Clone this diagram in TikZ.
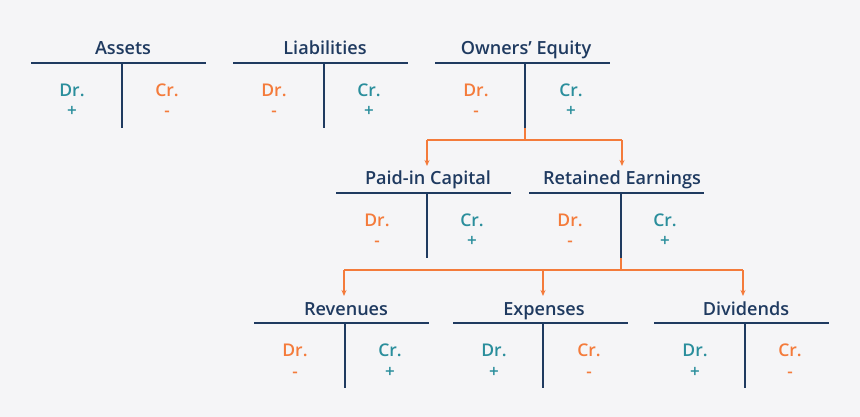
\documentclass[tikz,border=0pt]{standalone}
\usepackage{fontspec}
\setmainfont{Open Sans}
\IfFontExistsTF{Open Sans SemiBold}{\newfontfamily\semib{Open Sans SemiBold}}{%
 \IfFontExistsTF{Open Sans Semibold}{\newfontfamily\semib{Open Sans Semibold}}{%
  \newfontfamily\semib{Open Sans}[FakeBold=2]}}
\usetikzlibrary{arrows.meta}
\definecolor{navy}{HTML}{1F3A60}
\definecolor{teal}{HTML}{2A8E9C}
\definecolor{orng}{HTML}{F47B3B}
\definecolor{bg}{HTML}{F5F5F7}
\tikzset{
  tline/.style={draw=navy, line width=2.4pt},
  title/.style={text=navy, font=\semib\fontsize{18.1}{21}\selectfont, inner sep=0pt},
  lbl/.style={font=\semib\fontsize{17.5}{20}\selectfont, inner sep=0pt},
  sgn/.style={font=\semib\fontsize{17}{19}\selectfont, inner sep=0pt},
  link/.style={draw=orng, line width=1.4pt},
  arr/.style={link, -{Stealth[length=6pt,width=5pt]}}
}
% #1 name, #2 left x, #3 vertical x, #4 y of bar, #5 title, #6 dr color, #7 dr sign, #8 cr color, #9 cr sign
\newcommand{\taccount}[9]{%
  \coordinate (#1-l) at (#2,#4);
  \coordinate (#1-r) at (#2+175,#4);
  \coordinate (#1-v) at (#3,#4);
  \coordinate (#1-b) at (#3,#4+65);
  \draw[tline] (#1-l) -- (#1-r);
  \draw[tline] (#1-v) -- (#1-b);
  \node[title, anchor=base] (#1-t) at (#3+1,#4-8) {#5};
  \node[lbl, text=#6, anchor=base] (#1-dr) at (#2+41,#4+33.5) {Dr.};
  \node[sgn, text=#6, anchor=base] (#1-ds) at (#2+41,#4+54) {#7};
  \node[lbl, text=#8, anchor=base] (#1-cr) at (#2+136,#4+33.5) {Cr.};
  \node[sgn, text=#8, anchor=base] (#1-cs) at (#2+136,#4+54) {#9};
}
\begin{document}
\begin{tikzpicture}[x=1pt,y=-1pt]
\fill[bg] (0,0) rectangle (860,417);
\useasboundingbox (0,0) rectangle (860,417);
\taccount{as}{31}{122}{63}{Assets}{teal}{+}{orng}{-}
\taccount{li}{233}{324}{63}{Liabilities}{orng}{-}{teal}{+}
\taccount{oe}{435}{525}{63}{Owners’ Equity}{orng}{-}{teal}{+}
\taccount{pc}{336}{427}{193}{Paid-in Capital}{orng}{-}{teal}{+}
\taccount{re}{529}{621}{193}{Retained Earnings}{orng}{-}{teal}{+}
\taccount{rv}{254}{345}{323}{Revenues}{orng}{-}{teal}{+}
\taccount{ex}{453}{543}{323}{Expenses}{teal}{+}{orng}{-}
\taccount{dv}{654}{745}{323}{Dividends}{teal}{+}{orng}{-}
% links
\coordinate (oej) at (525,140);
\coordinate (oel) at (427,140);
\coordinate (oer) at (622,140);
\coordinate (pcT) at (427,166);
\coordinate (reT) at (622,166);
\draw[link] (oe-b) -- (oej);
\draw[link] (oel) -- (oer);
\draw[arr] (oel) -- (pcT);
\draw[arr] (oer) -- (reT);
\coordinate (rej) at (621,270);
\coordinate (rel) at (344,270);
\coordinate (rem) at (543,270);
\coordinate (rer) at (743,270);
\coordinate (rvT) at (344,296);
\coordinate (exT) at (543,296);
\coordinate (dvT) at (743,296);
\draw[link] (re-b) -- (rej);
\draw[link] (rel) -- (rer);
\draw[arr] (rel) -- (rvT);
\draw[arr] (rem) -- (exT);
\draw[arr] (rer) -- (dvT);
\end{tikzpicture}
\end{document}
